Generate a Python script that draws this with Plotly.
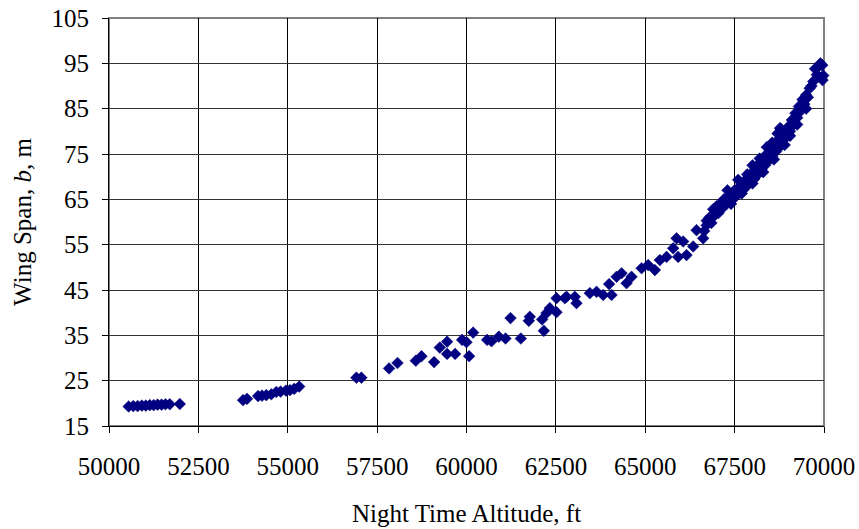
import plotly.graph_objects as go

# Night time altitude (ft) and wing span (m)
altitude = [
    50550, 50680, 50800, 50920, 51030, 51140, 51250, 51360, 51470, 51580, 51700, 51980,
    53750, 53860, 54170, 54280, 54400, 54540, 54680, 54800, 54950, 55060, 55180, 55320,
    56920, 57060, 57834, 58070, 58582, 58741, 59094, 59253, 59457, 59457, 59681, 59877,
    60000, 60073, 60185, 60577, 60700, 60904, 61091, 61231, 61520, 61771, 61743, 62115,
    62163, 62238, 62331, 62518, 62518, 62750, 63077, 62798, 63030, 63450, 63637, 63822,
    64057, 63990, 64197, 64337, 64477, 64617, 64897, 65081, 65269, 65409, 65596, 65781,
    65876, 66060, 65920, 66155, 66340, 66435, 66620, 66715,
    66650, 66720, 66800, 66850, 66900, 66950, 67000, 67050, 67100, 67150, 67200, 67250,
    67300, 67350, 67400, 67450, 67500, 67550, 67600, 67650, 67700, 67750, 67800, 67850,
    67900, 67950, 68000, 68050, 68100, 68150, 68200, 68250, 68300, 68350, 68400, 68450,
    68500, 68550, 68600, 68650, 68700, 68750, 68800, 68850, 68900, 68950, 69000, 69050,
    69100, 69150, 69200, 69250, 69300, 69350, 69400, 69450, 69500, 69550, 69600, 69650,
    69700, 69750, 69800, 69850, 69900, 69950, 69980, 69960,
    67400, 67700, 68000, 68300, 68600, 68900, 67300, 67600, 68000, 68400, 68700, 68770,
    68950, 68770, 69050, 69250, 69500, 68200, 68550, 67850,
]
wing_span = [
    19.3, 19.4, 19.4, 19.5, 19.5, 19.6, 19.6, 19.7, 19.7, 19.8, 19.8, 19.85,
    20.7, 21.0, 21.6, 21.7, 21.8, 22.0, 22.5, 22.6, 22.8, 22.9, 23.2, 23.7,
    25.65, 25.65, 27.7, 28.9, 29.4, 30.4, 29.1, 32.3, 33.6, 30.9, 30.9, 34.0,
    33.5, 30.4, 35.6, 34.0, 33.7, 34.7, 34.3, 38.8, 34.3, 39.1, 38.2, 38.5,
    36.0, 39.9, 41.0, 40.1, 43.2, 43.2, 42.1, 43.5, 43.5, 44.3, 44.6, 43.9,
    43.9, 46.3, 47.9, 48.7, 46.5, 47.9, 49.8, 50.5, 49.4, 51.6, 52.3, 54.2,
    56.4, 55.7, 52.3, 52.7, 54.6, 58.2, 56.4, 59.3,
    58.0, 60.3, 61.0, 59.8, 62.8, 61.5, 63.5, 62.0, 64.0, 63.0, 65.0, 63.8,
    65.5, 64.5, 66.2, 65.0, 67.0, 65.8, 67.5, 66.5, 68.5, 67.2, 69.2, 68.0,
    70.0, 68.8, 71.0, 69.5, 72.0, 70.5, 73.0, 71.5, 74.0, 72.5, 75.0, 73.5,
    76.0, 74.5, 77.0, 75.5, 78.0, 76.8, 80.5, 78.0, 80.0, 79.0, 81.0, 80.0,
    82.5, 81.5, 84.0, 83.0, 85.5, 84.5, 87.0, 86.0, 88.0, 87.5, 89.5, 90.0,
    91.0, 93.8, 92.5, 94.3, 95.0, 94.6, 92.3, 91.3,
    64.0, 66.3, 68.5, 71.0, 73.8, 77.0, 67.0, 69.3, 72.5, 76.5, 79.5, 80.7,
    78.8, 76.6, 79.0, 81.5, 85.0, 74.0, 77.5, 70.5,
]

x_ticks = [50000, 52500, 55000, 57500, 60000, 62500, 65000, 67500, 70000]
y_ticks = [15, 25, 35, 45, 55, 65, 75, 85, 95, 105]

FONT = "Liberation Serif, Times New Roman, serif"

fig = go.Figure()
fig.add_trace(go.Scatter(
    x=altitude, y=wing_span, mode="markers",
    marker=dict(symbol="diamond", size=9, color="#000080",
                line=dict(width=0.5, color="#000080")),
    cliponaxis=False, showlegend=False,
))

fig.update_layout(
    width=859, height=529,
    margin=dict(l=109, r=35, t=18, b=103, autoexpand=False),
    paper_bgcolor="white", plot_bgcolor="white",
    font=dict(family=FONT, size=25, color="black"),
    xaxis=dict(
        range=[50000, 70000], tickvals=x_ticks, ticktext=[str(v) for v in x_ticks],
        showgrid=True, gridcolor="black", gridwidth=1,
        showline=True, linecolor="black", linewidth=1,
        ticks="outside", ticklen=6, tickcolor="black",
        ticklabelstandoff=12, automargin=False,
        zeroline=False,
        title=dict(text="Night Time Altitude, ft", standoff=25,
                   font=dict(family=FONT, size=25)),
    ),
    yaxis=dict(
        range=[15, 105], tickvals=y_ticks, ticktext=[str(v) for v in y_ticks],
        showgrid=True, gridcolor="#333333", gridwidth=1,
        showline=True, linecolor="black", linewidth=1,
        ticks="outside", ticklen=6, tickcolor="black",
        ticklabelstandoff=8, automargin=False,
        zeroline=False,
        title=dict(text="Wing Span, <i>b</i>, m", standoff=12,
                   font=dict(family=FONT, size=25)),
    ),
    shapes=[dict(type="rect", xref="paper", yref="paper", x0=0, y0=0, x1=1, y1=1,
                 line=dict(color="#808080", width=2), layer="between")],
)

fig.write_html("out.html")
